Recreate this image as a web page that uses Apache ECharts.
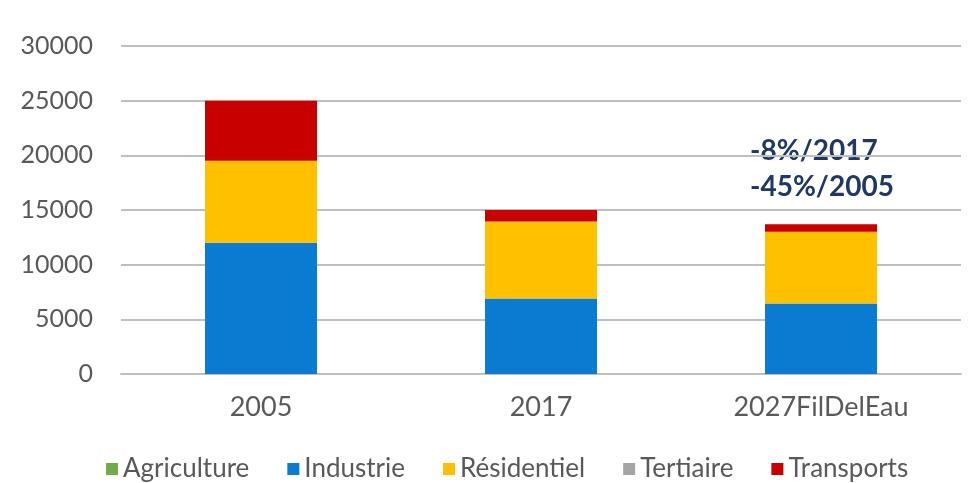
<!DOCTYPE html>
<html>
<head>
<meta charset="utf-8">
<script src="https://cdn.jsdelivr.net/npm/echarts@6/dist/echarts.min.js"></script>
<style>
  html, body { margin: 0; padding: 0; background: #fff; }
  #chart { width: 979px; height: 483px; }
</style>
</head>
<body>
<div id="chart"></div>
<script>
const categories = ['2005', '2017', '2027FilDelEau'];
const agriculture = [0, 0, 0];
const industrie = [12000, 6900, 6450];
const residentiel = [7500, 7050, 6550];
const tertiaire = [0, 0, 0];
const transports = [5500, 1050, 700];
const yTicks = [0, 5000, 10000, 15000, 20000, 25000, 30000];

const myChart = echarts.init(document.getElementById('chart'));
const font = 'Lato, "Open Sans", sans-serif';
const textColor = '#595959';

function bar(name, data, color) {
  return {
    name: name,
    type: 'bar',
    stack: 'total',
    barWidth: '40%',
    data: data,
    itemStyle: { color: color }
  };
}

const option = {
  animation: false,
  textStyle: { fontFamily: font },
  grid: { left: 121, right: 18, top: 46, bottom: 109 },
  legend: {
    data: ['Agriculture', 'Industrie', 'Résidentiel', 'Tertiaire', 'Transports'],
    left: 101,
    top: 451,
    icon: 'rect',
    itemWidth: 12,
    itemHeight: 12,
    itemGap: 38,
    itemTextGap: 5,
    textStyle: { fontSize: 26, color: textColor, fontFamily: font }
  },
  xAxis: {
    type: 'category',
    data: categories,
    axisTick: { show: false },
    axisLine: { lineStyle: { color: '#bfbfbf', width: 2 } },
    axisLabel: { fontSize: 27, color: textColor, margin: 20, fontFamily: font }
  },
  yAxis: {
    type: 'value',
    min: yTicks[0],
    max: yTicks[yTicks.length - 1],
    interval: 5000,
    axisLabel: {
      fontSize: 25, color: textColor, margin: 28, fontFamily: font,
      formatter: function (v) { return String(v); }
    },
    splitLine: { lineStyle: { color: '#bfbfbf', width: 2 } }
  },
  graphic: [
    {
      type: 'text', left: 750, top: 137,
      style: { text: '-8%/2017', fill: '#1f3864', font: 'bold 28px ' + font }
    },
    {
      type: 'text', left: 750, top: 173,
      style: { text: '-45%/2005', fill: '#1f3864', font: 'bold 28px ' + font }
    }
  ],
  series: [
    bar('Agriculture', agriculture, '#70ad47'),
    bar('Industrie', industrie, '#0a7bd0'),
    bar('Résidentiel', residentiel, '#ffc000'),
    bar('Tertiaire', tertiaire, '#a5a5a5'),
    bar('Transports', transports, '#c80000')
  ]
};
myChart.setOption(option);
</script>
</body>
</html>
